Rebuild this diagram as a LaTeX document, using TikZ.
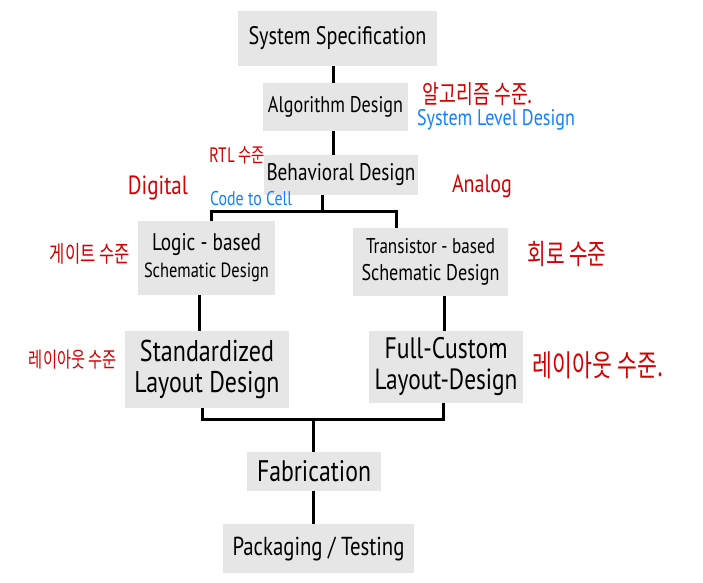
\documentclass[tikz,border=0pt]{standalone}
\usepackage{fontspec}
\usepackage{graphicx}
\setmainfont[FakeStretch=0.8]{PT Sans}
\newfontfamily\kr[FakeStretch=0.72]{Noto Sans CJK KR}
\definecolor{boxgray}{HTML}{E6E6E6}
\definecolor{annred}{HTML}{D60000}
\definecolor{annblue}{HTML}{1480FF}
\newcommand\fitw[2]{\resizebox{#1pt}{!}{#2}}
\tikzset{
  box/.style={fill=boxgray, inner sep=0pt, align=center, font=\fontsize{20}{27}\selectfont},
  conn/.style={line width=3pt, line cap=butt, line join=miter},
  redann/.style={text=annred, inner sep=0pt, font=\kr},
  blueann/.style={text=annblue, inner sep=0pt},
}
\begin{document}
\begin{tikzpicture}[x=1pt,y=-1pt]
\useasboundingbox (0,0) rectangle (703,582);

% boxes
\node[box, minimum width=199pt, minimum height=55pt] (sys) at (337.5,38.5) {\fitw{178}{System Specification}};
\node[box, minimum width=145pt, minimum height=48pt] (alg) at (335.5,107) {\fitw{135}{Algorithm Design}};
\node[box, minimum width=154pt, minimum height=40pt] (beh) at (341,175) {\fitw{149}{Behavioral Design}};
\node[box, minimum width=137pt, minimum height=74pt] (logic) at (206.5,258) {\fitw{109}{Logic - based}\\\fitw{125}{Schematic Design}};
\node[box, minimum width=155pt, minimum height=68pt] (tr) at (430.5,262) {\fitw{129}{Transistor - based}\\\fitw{138}{Schematic Design}};
\node[box, minimum width=164pt, minimum height=77pt] (std) at (207,369.5) {\fitw{134}{Standardized}\\[4pt]\fitw{145}{Layout Design}};
\node[box, minimum width=154pt, minimum height=72pt] (fc) at (446,367) {\fitw{123}{Full-Custom}\\[4pt]\fitw{143}{Layout-Design}};
\node[box, minimum width=134pt, minimum height=39pt] (fab) at (314,471.5) {\fitw{114}{Fabrication}};
\node[box, minimum width=191pt, minimum height=49pt] (pack) at (318.5,548.5) {\fitw{172}{Packaging / Testing}};

% helper coordinates
\coordinate (c1) at (333,0);
\coordinate (j1) at (322,211);
\coordinate (lt) at (211,221);
\coordinate (tt) at (396,228);
\coordinate (lx) at (199,0);
\coordinate (rx) at (444,0);
\coordinate (sl) at (202,0);
\coordinate (sr) at (443,0);
\coordinate (j2) at (313,419);

% connectors
\draw[conn] (sys.south -| c1) -- (alg.north -| c1);
\draw[conn] (alg.south -| c1) -- (beh.north -| c1);
\draw[conn] (beh.south -| j1) -- (j1);
\draw[conn] (lt) -- (lt |- j1) -- (tt |- j1) -- (tt);
\draw[conn] (logic.south -| lx) -- (std.north -| lx);
\draw[conn] (tr.south -| rx) -- (fc.north -| rx);
\draw[conn] (std.south -| sl) -- (sl |- j2) -- (sr |- j2) -- (fc.south -| sr);
\draw[conn] (j2) -- (fab.north -| j2);
\draw[conn] (fab.south -| j2) -- (pack.north -| j2);

% annotations
\node[redann] (a1) at (478,94) {\fitw{110}{알고리즘 수준.}};
\node[blueann] (a2) at (496,120) {\fitw{158}{System Level Design}};
\node[redann] (a3) at (237,155) {\fitw{55}{RTL 수준}};
\node[redann, font=\rmfamily] (a4) at (158,188) {\fitw{60}{Digital}};
\node[blueann] (a5) at (251,199) {\fitw{82}{Code to Cell}};
\node[redann, font=\rmfamily] (a6) at (482,186) {\fitw{60}{Analog}};
\node[redann] (a7) at (90,254) {\fitw{80}{게이트 수준}};
\node[redann] (a8) at (567,254) {\fitw{79}{회로 수준}};
\node[redann] (a9) at (73,360) {\fitw{88}{레이아웃 수준}};
\node[redann] (a10) at (598,365) {\fitw{130}{레이아웃 수준.}};
\end{tikzpicture}
\end{document}
